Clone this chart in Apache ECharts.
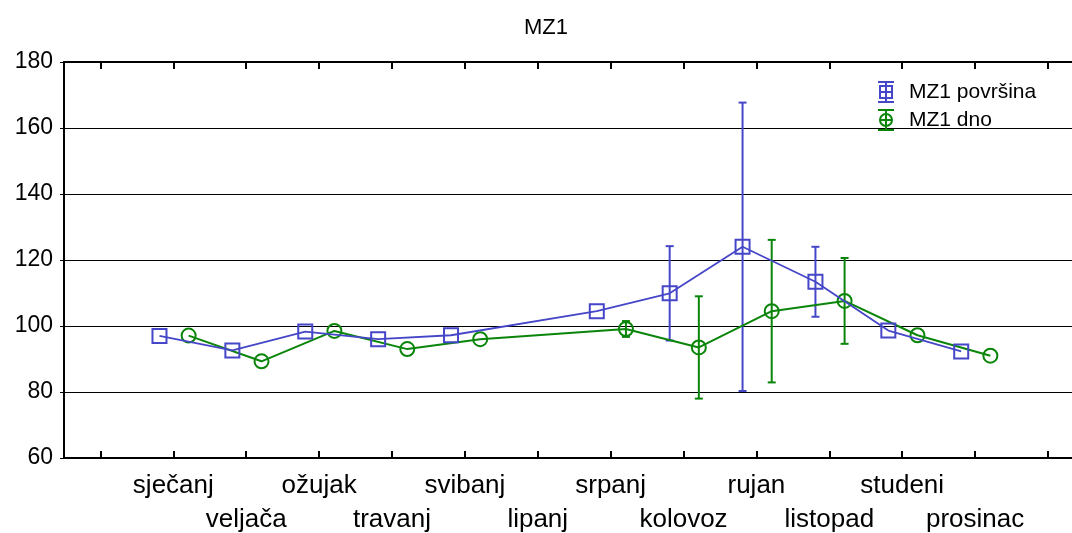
<!DOCTYPE html>
<html>
<head>
<meta charset="utf-8">
<script src="https://cdn.jsdelivr.net/npm/echarts@6/dist/echarts.min.js"></script>
<style>
    html, body { margin: 0; padding: 0; background: #fff; }
    #chart { width: 1072px; height: 533px; }
</style>
</head>
<body>
<div id="chart"></div>
<script>
    // mjeseci i izmjerene vrijednosti (lipanj nema mjerenja)
    var months = ['sječanj', 'veljača', 'ožujak', 'travanj', 'svibanj', 'lipanj',
        'srpanj', 'kolovoz', 'rujan', 'listopad', 'studeni', 'prosinac'];
    var povrsinaMean = [97.0, 92.6, 98.3, 96.0, 97.2, null, 104.5, 109.9, 124.0, 113.4, 98.6, 92.3];
    var povrsinaErr = [0, 0, 0, 0, 0, null, 0, 14.3, 43.7, 10.6, 0, 0];
    var dnoMean = [97.1, 89.3, 98.5, 93.0, 96.0, null, 99.1, 93.5, 104.5, 107.6, 97.2, 91.0];
    var dnoErr = [0, 0, 0, 0, 0, null, 2.4, 15.5, 21.6, 13.0, 0, 0];
    var yTicks = [60, 80, 100, 120, 140, 160, 180];

    var BLUE = '#4646c8';
    var GREEN = '#0a850a';
    var FONT = 'Liberation Sans, Arial, sans-serif';

    function buildPoints(mean, err, shift) {
        var pts = [];
        for (var i = 0; i < mean.length; i++) {
            if (mean[i] == null) continue;
            pts.push([i + 1 + shift, mean[i], err[i]]);
        }
        return pts;
    }
    var povrsinaPts = buildPoints(povrsinaMean, povrsinaErr, -0.19);
    var dnoPts = buildPoints(dnoMean, dnoErr, 0.21);

    function errorBars(color) {
        return function (params, api) {
            var e = api.value(2);
            if (!e) return;
            var x = api.value(0), y = api.value(1);
            var top = api.coord([x, y + e]);
            var bot = api.coord([x, y - e]);
            var w = 4;
            var st = { stroke: color, lineWidth: 2 };
            return {
                type: 'group',
                children: [
                    { type: 'line', shape: { x1: top[0], y1: top[1], x2: bot[0], y2: bot[1] }, style: st },
                    { type: 'line', shape: { x1: top[0] - w, y1: top[1], x2: top[0] + w, y2: top[1] }, style: st },
                    { type: 'line', shape: { x1: bot[0] - w, y1: bot[1], x2: bot[0] + w, y2: bot[1] }, style: st }
                ]
            };
        };
    }

    var tickVals = [];
    for (var t = 0; t <= 13; t++) tickVals.push(t);
    // neparni mjeseci u prvom redu, parni u drugom
    var row1Vals = [1, 3, 5, 7, 9, 11];
    var row2Vals = [2, 4, 6, 8, 10, 12];

    var iconSquare = 'path://M0,0L16,0M0,20L16,20M8,0L8,20M2,4L14,4L14,16L2,16ZM2,10L14,10';
    var iconCircle = 'path://M0,0L16,0M0,20L16,20M8,0L8,20M2,10A6,6,0,1,1,14,10A6,6,0,1,1,2,10ZM2,10L14,10';

    function monthLabel(margin, vals) {
        return {
            customValues: vals,
            showMaxLabel: true,
            showMinLabel: true,
            margin: margin,
            fontFamily: FONT,
            fontSize: 26,
            color: '#000',
            formatter: function (v) { return months[Math.round(v) - 1]; }
        };
    }

    var chart = echarts.init(document.getElementById('chart'));
    var option = {
        backgroundColor: '#fff',
        animation: false,
        title: {
            text: 'MZ1',
            left: 519,
            top: 12,
            textStyle: { fontFamily: FONT, fontSize: 22, fontWeight: 'normal', color: '#000' }
        },
        legend: {
            orient: 'vertical',
            left: 877,
            top: 81,
            padding: 0,
            itemGap: 6,
            itemWidth: 16,
            itemHeight: 20,
            textStyle: { fontFamily: FONT, fontSize: 21, color: '#000', padding: [0, 0, 0, 10] },
            data: [
                { name: 'MZ1 površina', icon: iconSquare,
                    itemStyle: { color: 'rgba(0,0,0,0)', borderColor: BLUE, borderWidth: 2 } },
                { name: 'MZ1 dno', icon: iconCircle,
                    itemStyle: { color: 'rgba(0,0,0,0)', borderColor: GREEN, borderWidth: 2 } }
            ]
        },
        grid: { left: 64, right: 0, top: 62, bottom: 75 },
        xAxis: [
            {
                type: 'value',
                position: 'bottom',
                min: -0.5,
                max: 13.33,
                axisLine: { show: true, onZero: false, lineStyle: { color: '#000', width: 2 } },
                axisTick: { show: true, inside: true, length: 7, customValues: tickVals,
                    lineStyle: { color: '#000', width: 2 } },
                splitLine: { show: false },
                axisLabel: monthLabel(15, row1Vals)
            },
            {
                type: 'value',
                position: 'top',
                min: -0.5,
                max: 13.33,
                axisLine: { show: true, onZero: false, lineStyle: { color: '#000', width: 2 } },
                axisTick: { show: true, inside: true, length: 7, customValues: tickVals,
                    lineStyle: { color: '#000', width: 2 } },
                splitLine: { show: false },
                axisLabel: { show: false }
            },
            {
                type: 'value',
                position: 'bottom',
                min: -0.5,
                max: 13.33,
                axisLine: { show: false, onZero: false },
                axisTick: { show: false },
                splitLine: { show: false },
                axisLabel: monthLabel(49, row2Vals)
            }
        ],
        yAxis: {
            type: 'value',
            min: 60,
            max: 180,
            interval: 20,
            axisLine: { show: true, onZero: false, lineStyle: { color: '#000', width: 2 } },
            axisTick: { show: true, length: 4, lineStyle: { color: '#000', width: 1 } },
            splitLine: { show: true, lineStyle: { color: '#000', width: 1 } },
            axisLabel: {
                margin: 11,
                fontFamily: FONT,
                fontSize: 23,
                color: '#000',
                formatter: function (v) { return yTicks.indexOf(v) >= 0 ? v : ''; }
            }
        },
        series: [
            {
                name: 'MZ1 površina',
                type: 'custom',
                renderItem: errorBars(BLUE),
                data: povrsinaPts,
                encode: { x: 0, y: 1 },
                z: 2
            },
            {
                name: 'MZ1 dno',
                type: 'custom',
                renderItem: errorBars(GREEN),
                data: dnoPts,
                encode: { x: 0, y: 1 },
                z: 2
            },
            {
                name: 'MZ1 dno',
                type: 'line',
                data: dnoPts,
                symbol: 'circle',
                symbolSize: 14,
                showAllSymbol: true,
                lineStyle: { color: GREEN, width: 2 },
                itemStyle: { color: 'rgba(0,0,0,0)', borderColor: GREEN, borderWidth: 2 },
                z: 3
            },
            {
                name: 'MZ1 površina',
                type: 'line',
                data: povrsinaPts,
                symbol: 'rect',
                symbolSize: 14,
                showAllSymbol: true,
                lineStyle: { color: BLUE, width: 1.8 },
                itemStyle: { color: 'rgba(0,0,0,0)', borderColor: BLUE, borderWidth: 2 },
                z: 4
            }
        ]
    };
    chart.setOption(option);
</script>
</body>
</html>
